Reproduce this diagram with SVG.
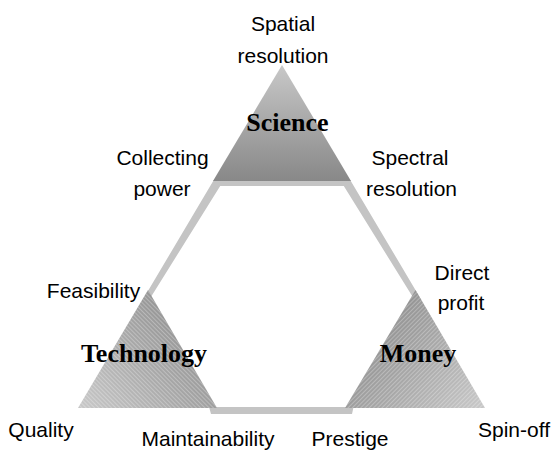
<svg xmlns="http://www.w3.org/2000/svg" width="556" height="450" viewBox="0 0 556 450">
  <defs>
    <style>
      .lbl { font-family: "Liberation Sans", Arial, sans-serif; font-size: 21px; fill: #000; text-anchor: middle; }
      .head { font-family: "Liberation Serif", "Times New Roman", serif; font-size: 26px; font-weight: bold; fill: #000; text-anchor: middle; }
      .band { fill: #c4c4c4; fill-rule: evenodd; }
    </style>
    <linearGradient id="gradScience" x1="0" y1="65" x2="0" y2="181" gradientUnits="userSpaceOnUse">
      <stop offset="0" stop-color="#c8c8c8"/>
      <stop offset="1" stop-color="#888888"/>
    </linearGradient>
    <linearGradient id="gradTech" x1="85" y1="405" x2="200" y2="310" gradientUnits="userSpaceOnUse">
      <stop offset="0" stop-color="#c6c6c6"/>
      <stop offset="1" stop-color="#8c8c8c"/>
    </linearGradient>
    <linearGradient id="gradMoney" x1="478" y1="405" x2="365" y2="310" gradientUnits="userSpaceOnUse">
      <stop offset="0" stop-color="#c6c6c6"/>
      <stop offset="1" stop-color="#8a8a8a"/>
    </linearGradient>
    <pattern id="hatchBack" width="3" height="3" patternUnits="userSpaceOnUse" patternTransform="rotate(-45)">
      <line x1="0.5" y1="0" x2="0.5" y2="3" stroke="#ffffff" stroke-opacity="0.35" stroke-width="0.8"/>
    </pattern>
    <pattern id="hatchFwd" width="3" height="3" patternUnits="userSpaceOnUse" patternTransform="rotate(45)">
      <line x1="0.5" y1="0" x2="0.5" y2="3" stroke="#ffffff" stroke-opacity="0.35" stroke-width="0.8"/>
    </pattern>
  </defs>

  <!-- hexagonal band linking the three corners -->
  <g id="connectors">
    <path class="band" d="M213.8,180 L350.2,180 L421.4,300 L356,396 L352,414 L211,414 L206,396 L142.6,300 Z
                          M220.2,186 L343.8,186 L414,299 L347,407 L215,407 L150,298.5 Z"/>
  </g>

  <g id="science">
    <polygon points="282,65 213,181 351,181" fill="url(#gradScience)"/>
    <text class="head" x="287.5" y="131">Science</text>
  </g>

  <g id="technology">
    <polygon points="148,290 78,408 217,408" fill="url(#gradTech)"/>
    <polygon points="148,290 78,408 217,408" fill="url(#hatchBack)"/>
    <text class="head" x="144" y="362">Technology</text>
  </g>

  <g id="money">
    <polygon points="415.5,290 345,408 485,408" fill="url(#gradMoney)"/>
    <polygon points="415.5,290 345,408 485,408" fill="url(#hatchFwd)"/>
    <text class="head" x="418" y="362">Money</text>
  </g>

  <!-- attribute labels around the triangle -->
  <g id="labels">
    <text class="lbl" x="283" y="31">Spatial</text>
    <text class="lbl" x="283" y="63">resolution</text>
    <text class="lbl" x="162.5" y="165">Collecting</text>
    <text class="lbl" x="162" y="196">power</text>
    <text class="lbl" x="410" y="165">Spectral</text>
    <text class="lbl" x="411.5" y="196">resolution</text>
    <text class="lbl" x="462" y="280">Direct</text>
    <text class="lbl" x="461" y="310">profit</text>
    <text class="lbl" x="93.5" y="298">Feasibility</text>
    <text class="lbl" x="41" y="437">Quality</text>
    <text class="lbl" x="208" y="446">Maintainability</text>
    <text class="lbl" x="350" y="446">Prestige</text>
    <text class="lbl" x="514" y="437">Spin-off</text>
  </g>
</svg>
